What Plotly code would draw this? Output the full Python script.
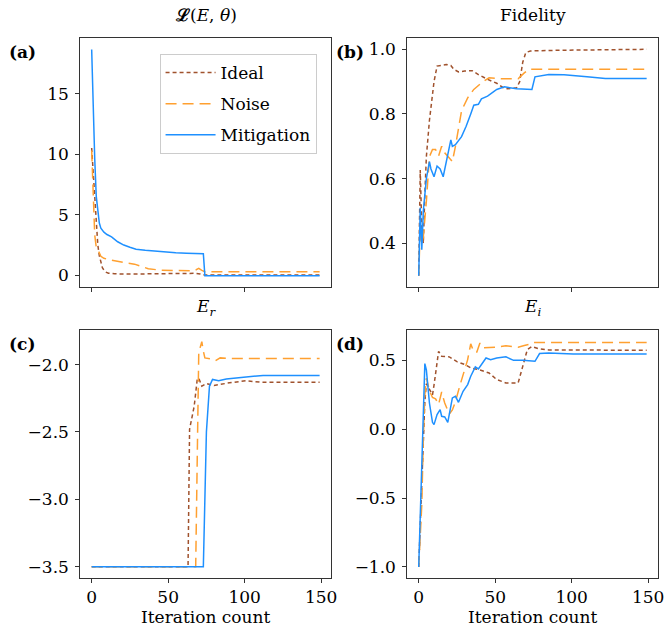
import plotly.graph_objects as go

# ---------------- data ----------------
# (a) loss function L(E, theta)
loss_ideal_x = [0, 1, 2, 3, 4, 5, 6, 7, 8, 9, 11, 15, 25, 40, 55, 62, 67, 71, 74, 149]
loss_ideal_y = [10.5, 8.3, 6.0, 3.8, 2.5, 1.6, 1.0, 0.6, 0.4, 0.25, 0.15, 0.1, 0.08, 0.1, 0.12, 0.15, 0.14, 0.08, 0.0, 0.0]
loss_noise_x = [0, 1, 2, 3, 4, 6, 8, 12, 18, 24, 28, 33, 37, 45, 55, 65, 68, 70, 72, 74, 149]
loss_noise_y = [10.3, 6.8, 3.3, 2.3, 2.1, 1.55, 1.38, 1.25, 1.08, 0.97, 0.9, 0.7, 0.52, 0.4, 0.36, 0.36, 0.42, 0.55, 0.38, 0.27, 0.27]
loss_mit_x = [0, 1, 2, 3, 4, 5, 6, 8, 10, 13, 17, 21, 25, 29, 35, 41, 48, 55, 62, 68, 73, 74, 149]
loss_mit_y = [18.65, 13.5, 9.6, 6.5, 5.1, 4.3, 3.87, 3.55, 3.35, 3.15, 2.75, 2.48, 2.3, 2.14, 2.05, 1.97, 1.9, 1.84, 1.8, 1.78, 1.76, -0.05, -0.05]

# (b) fidelity
fid_ideal_x = [0, 1, 2, 3, 4, 5, 7, 9, 10, 12, 15, 18, 21, 23, 26, 30, 35, 39, 45, 51, 55, 58, 64, 66, 68, 70, 73, 90, 149]
fid_ideal_y = [0.30, 0.627, 0.45, 0.40, 0.55, 0.668, 0.78, 0.86, 0.90, 0.948, 0.95, 0.953, 0.95, 0.938, 0.93, 0.933, 0.934, 0.922, 0.907, 0.895, 0.882, 0.878, 0.881, 0.90, 0.96, 0.99, 0.995, 0.997, 1.0]
fid_noise_x = [0, 1, 2, 3, 5, 7, 9, 11, 13, 15, 17, 19, 22, 24, 26, 28, 32, 36, 42, 46, 54, 65, 69, 72, 149]
fid_noise_y = [0.30, 0.45, 0.40, 0.42, 0.53, 0.668, 0.69, 0.69, 0.67, 0.70, 0.68, 0.67, 0.653, 0.70, 0.75, 0.81, 0.85, 0.876, 0.90, 0.912, 0.909, 0.909, 0.927, 0.938, 0.938]
fid_mit_x = [0, 1, 2, 3, 5, 7, 8, 10, 12, 14, 16, 19, 21, 22, 24, 28, 31, 34, 36, 39, 41, 45, 48, 51, 56, 64, 74, 76, 85, 95, 110, 122, 149]
fid_mit_y = [0.30, 0.51, 0.38, 0.50, 0.60, 0.653, 0.63, 0.606, 0.639, 0.63, 0.606, 0.674, 0.72, 0.70, 0.705, 0.73, 0.762, 0.80, 0.827, 0.83, 0.847, 0.855, 0.867, 0.876, 0.884, 0.878, 0.876, 0.915, 0.922, 0.921, 0.915, 0.91, 0.91]

# (c) real part of the energy
er_ideal_x = [0, 63, 64, 67, 69, 70, 72, 75, 80, 90, 101, 110, 149]
er_ideal_y = [-3.5, -3.5, -2.48, -2.31, -2.11, -2.10, -2.16, -2.14, -2.155, -2.135, -2.12, -2.13, -2.13]
er_noise_x = [0, 68, 70, 72, 73, 74, 79, 81, 84, 90, 149]
er_noise_y = [-3.5, -3.5, -1.91, -1.83, -1.90, -1.95, -1.96, -1.97, -1.95, -1.955, -1.955]
er_mit_x = [0, 73, 75, 77, 79, 83, 88, 95, 103, 112, 149]
er_mit_y = [-3.5, -3.5, -2.5, -2.16, -2.11, -2.12, -2.106, -2.10, -2.09, -2.08, -2.08]

# (d) imaginary part of the energy
ei_ideal_x = [0, 2, 3, 4, 5, 6, 8, 9, 10, 12, 13, 15, 20, 25, 30, 34, 40, 46, 51, 57, 65, 68, 71, 74, 78, 85, 149]
ei_ideal_y = [-1.0, -0.45, -0.05, 0.20, 0.33, 0.31, 0.28, 0.25, 0.32, 0.50, 0.565, 0.53, 0.525, 0.49, 0.47, 0.445, 0.43, 0.408, 0.36, 0.336, 0.336, 0.456, 0.578, 0.60, 0.585, 0.575, 0.573]
ei_noise_x = [0, 2, 3, 4, 5, 7, 9, 11, 13, 15, 17, 20, 22, 24, 27, 30, 32, 34, 36, 38, 40, 42, 50, 57, 65, 69, 72, 75, 149]
ei_noise_y = [-1.0, -0.55, -0.07, 0.25, 0.37, 0.28, 0.23, 0.22, 0.18, 0.27, 0.19, 0.11, 0.14, 0.20, 0.32, 0.43, 0.505, 0.62, 0.56, 0.56, 0.625, 0.59, 0.595, 0.605, 0.595, 0.607, 0.615, 0.63, 0.63]
ei_mit_x = [0, 4, 5, 7, 9, 10, 12, 14, 15, 17, 19, 22, 24, 26, 29, 32, 34, 37, 39, 42, 44, 47, 51, 57, 62, 68, 76, 79, 85, 101, 149]
ei_mit_y = [-1.0, 0.476, 0.43, 0.19, 0.05, 0.033, 0.106, 0.142, 0.094, 0.089, 0.05, 0.227, 0.239, 0.195, 0.275, 0.324, 0.384, 0.452, 0.437, 0.481, 0.517, 0.505, 0.517, 0.525, 0.50, 0.50, 0.493, 0.549, 0.553, 0.546, 0.545]

series_names = ["Ideal", "Noise", "Mitigation"]
panel_titles = ["<b>ℒ</b>(<i>E</i>, <i>θ</i>)",
                "Fidelity", "<i>E</i><sub><i>r</i></sub>", "<i>E</i><sub><i>i</i></sub>"]
panel_tags = ["(a)", "(b)", "(c)", "(d)"]

# ---------------- styling ----------------
W, H = 670, 641
FONT = "DejaVu Serif"
FS = 17
AXCOL = "#333333"
styles = {
    "Ideal": dict(color="#a0522d", width=1.5, dash="4px,3px"),
    "Noise": dict(color="#ffa030", width=1.5, dash="11px,6px"),
    "Mitigation": dict(color="#1e90ff", width=1.5, dash="solid"),
}

def px_x(v):
    return v / W

def px_y(v):
    return 1 - v / H

# plot areas in pixels: (left, right, top, bottom)
boxes = [(81, 334, 38, 287), (411, 664, 38, 287), (81, 334, 330, 578), (411, 664, 330, 578)]
yranges = [[-0.99, 19.6], [0.265, 1.035], [-3.584, -1.743], [-1.08, 0.72]]
yticks = [[0, 5, 10, 15], [0.4, 0.6, 0.8, 1.0], [-3.5, -3.0, -2.5, -2.0], [-1.0, -0.5, 0.0, 0.5]]
yfmt = ["d", ".1f", ".1f", ".1f"]
xticks_top = [0, 100]
xticks_bottom = [0, 50, 100, 150]
xrange_all = [-7.45, 156.45]

panels = [
    [(loss_ideal_x, loss_ideal_y), (loss_noise_x, loss_noise_y), (loss_mit_x, loss_mit_y)],
    [(fid_ideal_x, fid_ideal_y), (fid_noise_x, fid_noise_y), (fid_mit_x, fid_mit_y)],
    [(er_ideal_x, er_ideal_y), (er_noise_x, er_noise_y), (er_mit_x, er_mit_y)],
    [(ei_ideal_x, ei_ideal_y), (ei_noise_x, ei_noise_y), (ei_mit_x, ei_mit_y)],
]

fig = go.Figure()
layout = dict(
    width=W, height=H, margin=dict(l=0, r=0, t=0, b=0),
    paper_bgcolor="white", plot_bgcolor="white",
    font=dict(family=FONT, size=FS, color="black"),
    showlegend=True,
)

annotations = []
for k, (series, box) in enumerate(zip(panels, boxes)):
    sfx = "" if k == 0 else str(k + 1)
    for name, (xs, ys) in zip(series_names, series):
        fig.add_trace(go.Scatter(
            x=xs, y=ys, mode="lines", name=name, line=styles[name],
            xaxis="x" + sfx, yaxis="y" + sfx,
            showlegend=(k == 0), legendgroup=name,
        ))
    l, r, t, b = box
    bottom_row = k >= 2
    xa = dict(
        domain=[px_x(l), px_x(r)], range=xrange_all, anchor="y" + sfx,
        tickmode="array", tickvals=xticks_bottom if bottom_row else xticks_top,
        showticklabels=bottom_row, ticks="outside", ticklen=4, tickcolor=AXCOL,
        showline=True, linecolor=AXCOL, linewidth=1, mirror=True,
        showgrid=False, zeroline=False,
        tickfont=dict(family=FONT, size=FS),
    )
    if bottom_row:
        xa["title"] = dict(text="Iteration count", standoff=2,
                           font=dict(family=FONT, size=FS))
    layout["xaxis" + sfx] = xa
    layout["yaxis" + sfx] = dict(
        domain=[px_y(b), px_y(t)], range=yranges[k], anchor="x" + sfx,
        tickmode="array", tickvals=yticks[k], tickformat=yfmt[k],
        ticks="outside", ticklen=4, tickcolor=AXCOL, ticklabelstandoff=3,
        showline=True, linecolor=AXCOL, linewidth=1, mirror=True,
        showgrid=False, zeroline=False,
        tickfont=dict(family=FONT, size=FS),
    )
    annotations.append(dict(
        text=panel_titles[k], xref="paper", yref="paper",
        x=px_x((l + r) / 2), y=px_y(t - 23), xanchor="center", yanchor="middle",
        showarrow=False, font=dict(family=FONT, size=FS),
    ))
    annotations.append(dict(
        text="<b>" + panel_tags[k] + "</b>", xref="paper", yref="paper",
        x=px_x(l - 74), y=px_y(t + 14), xanchor="left", yanchor="middle",
        showarrow=False, font=dict(family=FONT, size=FS),
    ))

layout["annotations"] = annotations
layout["legend"] = dict(
    x=px_x(161), y=px_y(54), xanchor="left", yanchor="top",
    bgcolor="rgba(255,255,255,0.8)", bordercolor="#cccccc", borderwidth=1,
    font=dict(family=FONT, size=FS), tracegroupgap=6, traceorder="grouped",
    itemwidth=50,
)
fig.update_layout(**layout)
fig.write_html("out.html")
